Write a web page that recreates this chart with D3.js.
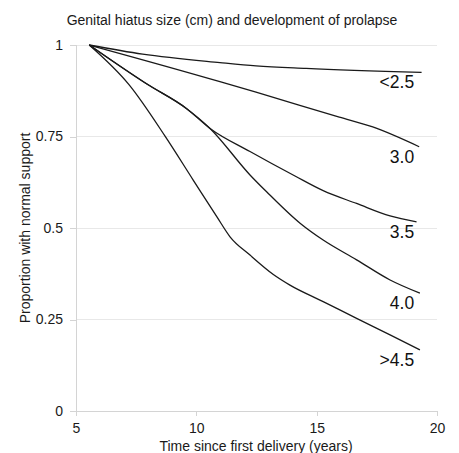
<!DOCTYPE html>
<html><head><meta charset="utf-8">
<script src="https://cdn.jsdelivr.net/npm/d3@7"></script>
<style>
html,body{margin:0;padding:0;background:#fff;}
svg{display:block;font-family:"Liberation Sans",Arial,sans-serif;}
</style></head>
<body>
<svg id="c" width="459" height="453"></svg>
<script>
const title = "Genital hiatus size (cm) and development of prolapse";
const xTitle = "Time since first delivery (years)";
const yTitle = "Proportion with normal support";
const xTicks = [5, 10, 15, 20];
const yTicks = [0, 0.25, 0.5, 0.75, 1];
const yTickLabels = ["0", "0.25", "0.5", "0.75", "1"];
const seriesNames = ["<2.5", "3.0", "3.5", "4.0", ">4.5"];

const lt25X = [5.55, 7.77, 10.98, 12.48, 14.56, 19.36];
const lt25Y = [1.0, 0.975, 0.952, 0.943, 0.936, 0.925];
const s30X = [5.55, 10.98, 12.48, 15.94, 17.33, 19.26];
const s30Y = [1.0, 0.900, 0.871, 0.803, 0.776, 0.722];
const s35X = [5.55, 7.93, 9.60, 10.57, 12.23, 14.1, 15.27, 16.66, 18.05, 19.15];
const s35Y = [1.0, 0.894, 0.826, 0.772, 0.709, 0.642, 0.602, 0.567, 0.533, 0.517];
const s40X = [5.55, 7.93, 9.60, 10.57, 12.23, 12.92, 14.31, 15.27, 16.66, 18.05, 19.29];
const s40Y = [1.0, 0.894, 0.826, 0.772, 0.645, 0.599, 0.513, 0.467, 0.413, 0.358, 0.322];
const s45X = [5.55, 7.21, 8.70, 9.87, 10.85, 11.40, 12.23, 13.20, 13.89, 15.27, 16.66, 18.05, 19.29];
const s45Y = [1.0, 0.891, 0.751, 0.631, 0.531, 0.476, 0.426, 0.373, 0.344, 0.299, 0.253, 0.208, 0.167];

const allX = [lt25X, s30X, s35X, s40X, s45X];
const allY = [lt25Y, s30Y, s35Y, s40Y, s45Y];
const series = seriesNames.map((n, i) => ({
  name: n,
  pts: allX[i].map((x, j) => ({x: x, y: allY[i][j]}))
}));

const svg = d3.select("#c");
const x = d3.scaleLinear().domain([5, 20]).range([76, 437]);
const y = d3.scaleLinear().domain([0, 1]).range([411, 45]);

// gridlines
svg.append("g").selectAll("line").data(yTicks.filter(d => d > 0)).join("line")
  .attr("x1", x(5)).attr("x2", x(20))
  .attr("y1", d => y(d)).attr("y2", d => y(d))
  .attr("stroke", "#e8e8e8").attr("stroke-width", 1).attr("shape-rendering", "crispEdges");

// y axis
const yAxis = d3.axisLeft(y).tickValues(yTicks).tickFormat((d, i) => yTickLabels[i]).tickSize(6).tickPadding(7);
const gy = svg.append("g").attr("transform", `translate(${x(5)},0)`).call(yAxis);
gy.select(".domain").attr("stroke", "#d4d4d4").attr("shape-rendering", "crispEdges");
gy.selectAll(".tick line").attr("stroke", "#d4d4d4").attr("shape-rendering", "crispEdges");
gy.selectAll(".tick text").attr("font-size", "14px").attr("fill", "#1a1a1a").attr("font-family", "Liberation Sans, Arial, sans-serif");

// x axis
const xAxis = d3.axisBottom(x).tickValues(xTicks).tickSize(5).tickPadding(7).tickSizeOuter(0);
const gx = svg.append("g").attr("transform", `translate(0,${y(0)})`).call(xAxis);
gx.select(".domain").attr("stroke", "#d4d4d4").attr("shape-rendering", "crispEdges");
gx.selectAll(".tick line").attr("stroke", "#d4d4d4").attr("shape-rendering", "crispEdges");
gx.selectAll(".tick text").attr("font-size", "14px").attr("fill", "#1a1a1a").attr("font-family", "Liberation Sans, Arial, sans-serif");

// curves
const line = d3.line().x(d => x(d.x)).y(d => y(d.y)).curve(d3.curveMonotoneX);
svg.append("g").selectAll("path").data(series).join("path")
  .attr("d", d => line(d.pts))
  .attr("fill", "none").attr("stroke", "#1a1a1a").attr("stroke-width", 1.3);

// curve labels
svg.append("g").selectAll("text").data(series).join("text")
  .attr("x", x(19.05))
  .attr("y", d => y(d.pts[d.pts.length - 1].y) + 16)
  .attr("text-anchor", "end")
  .attr("font-size", "17.5px").attr("fill", "#111")
  .text(d => d.name);

// titles
svg.append("text").attr("x", 232).attr("y", 25).attr("text-anchor", "middle")
  .attr("font-size", "14px").attr("fill", "#1a1a1a").text(title);
svg.append("text").attr("x", 256).attr("y", 451).attr("text-anchor", "middle")
  .attr("font-size", "14px").attr("fill", "#1a1a1a").text(xTitle);
svg.append("text").attr("transform", "translate(30,228) rotate(-90)").attr("text-anchor", "middle")
  .attr("font-size", "14px").attr("fill", "#1a1a1a").text(yTitle);
</script>
</body></html>
